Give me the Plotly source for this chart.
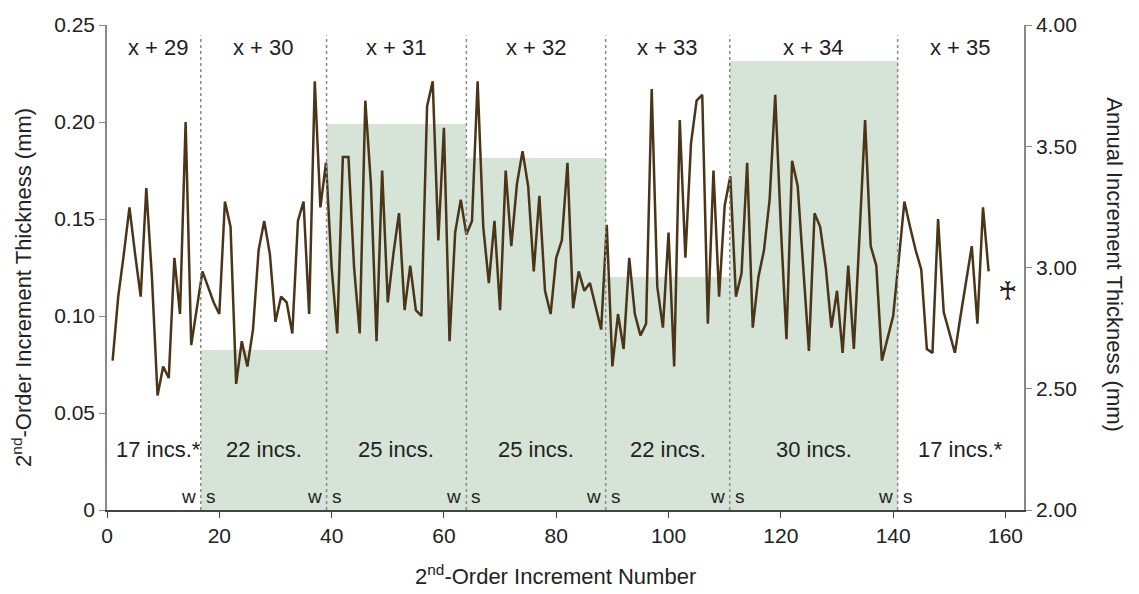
import plotly.graph_objects as go

# 2nd-order increment thickness (mm), increments 1..157
increment_number = list(range(1, 158))
thickness = [
    0.077, 0.110, 0.132, 0.156, 0.132, 0.110, 0.166, 0.120, 0.059, 0.074,
    0.068, 0.130, 0.101, 0.200, 0.085, 0.103, 0.123,
    0.115, 0.107, 0.101, 0.159, 0.146, 0.065, 0.087, 0.074, 0.093, 0.134,
    0.149, 0.132, 0.097, 0.110, 0.107, 0.091, 0.149, 0.159, 0.101, 0.221,
    0.156, 0.179,
    0.125, 0.091, 0.182, 0.182, 0.125, 0.091, 0.211, 0.168, 0.087, 0.175,
    0.107, 0.132, 0.153, 0.103, 0.126, 0.103, 0.100, 0.208, 0.221, 0.139,
    0.197, 0.087, 0.143, 0.160, 0.142,
    0.149, 0.221, 0.146, 0.117, 0.149, 0.103, 0.175, 0.136, 0.168, 0.185,
    0.167, 0.123, 0.162, 0.113, 0.101, 0.130, 0.139, 0.179, 0.104, 0.123,
    0.113, 0.117, 0.105, 0.093, 0.147,
    0.074, 0.101, 0.083, 0.130, 0.101, 0.090, 0.096, 0.217, 0.115, 0.094,
    0.143, 0.074, 0.201, 0.130, 0.189, 0.211, 0.214, 0.096, 0.175, 0.110,
    0.157, 0.172,
    0.110, 0.122, 0.179, 0.094, 0.120, 0.134, 0.160, 0.214, 0.146, 0.088,
    0.180, 0.167, 0.124, 0.082, 0.153, 0.146, 0.125, 0.094, 0.113, 0.081,
    0.126, 0.083, 0.141, 0.201, 0.136, 0.126, 0.077, 0.089, 0.100, 0.129,
    0.159, 0.146, 0.134, 0.124, 0.083, 0.081, 0.150, 0.102, 0.091, 0.081,
    0.100, 0.118, 0.136, 0.096, 0.156, 0.123,
]

# Year boundaries (increment number) and year labels
boundaries = [16.7, 39.1, 64.0, 88.8, 110.9, 140.8]
year_labels = ["x + 29", "x + 30", "x + 31", "x + 32", "x + 33", "x + 34", "x + 35"]
inc_labels = ["17 incs.*", "22 incs.", "25 incs.", "25 incs.", "22 incs.", "30 incs.", "17 incs.*"]
annual_thickness = [None, 2.66, 3.59, 3.45, 2.96, 3.85, None]
o_marks = [88.8, 110.9, 140.8]

FONT = "Liberation Sans, Arial, sans-serif"
TXT = "#222222"
LINE_C = "#4b3519"
BAR_C = "#d5e4d6"

edges = [1.5] + boundaries + [163.3]
mids = [(edges[i] + edges[i + 1]) / 2 for i in range(len(edges) - 1)]

fig = go.Figure()

# annual increment blocks (right axis = primary y so they sit below the line)
bx, bw, by = [], [], []
for i, v in enumerate(annual_thickness):
    if v is None:
        continue
    bx.append((edges[i] + edges[i + 1]) / 2)
    bw.append(edges[i + 1] - edges[i])
    by.append(v - 2.0)
fig.add_trace(go.Bar(x=bx, y=by, base=2.0, width=bw, marker=dict(color=BAR_C, line=dict(width=0)),
                     yaxis="y", hoverinfo="skip", showlegend=False))

fig.add_trace(go.Scatter(x=increment_number, y=thickness, mode="lines", yaxis="y2",
                         line=dict(color=LINE_C, width=2.5), showlegend=False))

shapes = []
for b in boundaries:
    shapes.append(dict(type="line", xref="x", yref="y2", x0=b, x1=b, y0=0, y1=0.2446,
                       line=dict(color="#8a8a8a", width=1.5, dash="dot"), layer="above"))

ann = []
for m, t in zip(mids, year_labels):
    ann.append(dict(x=m, y=0.2384, xref="x", yref="y2", text=t, showarrow=False,
                    font=dict(size=22, color=TXT, family=FONT)))
for m, t in zip(mids, inc_labels):
    ann.append(dict(x=m, y=0.0311, xref="x", yref="y2", text=t, showarrow=False,
                    font=dict(size=22, color=TXT, family=FONT)))
for b in boundaries:
    ann.append(dict(x=b, y=0.0069, xref="x", yref="y2", text="w", showarrow=False,
                    xanchor="right", xshift=-3, font=dict(size=19, color=TXT, family=FONT)))
    ann.append(dict(x=b, y=0.0069, xref="x", yref="y2", text="s", showarrow=False,
                    xanchor="left", xshift=3, font=dict(size=19, color=TXT, family=FONT)))
for o in o_marks:
    ann.append(dict(x=o, y=0.2523, xref="x", yref="y2", text="O", showarrow=False,
                    font=dict(size=22, color=TXT, family=FONT)))
ann.append(dict(x=160.3, y=0.113, xref="x", yref="y2", text="♰", showarrow=False,
                font=dict(size=26, color=TXT, family="DejaVu Sans")))
ann.append(dict(x=-0.0927, y=0.46, xref="paper", yref="paper", text="2<sup>nd</sup>-Order Increment Thickness (mm)",
                showarrow=False, textangle=-90, xanchor="center", yanchor="middle",
                font=dict(size=22, color=TXT, family=FONT)))
ann.append(dict(x=1.099, y=0.505, xref="paper", yref="paper", text="Annual Increment Thickness (mm)",
                showarrow=False, textangle=90, xanchor="center", yanchor="middle",
                font=dict(size=22, color=TXT, family=FONT)))
ann.append(dict(x=0.4886, y=-0.166, xref="paper", yref="paper", text="2<sup>nd</sup>-Order Increment Number",
                showarrow=False, xanchor="center", font=dict(size=22, color=TXT, family=FONT)))

fig.update_layout(
    width=1139, height=594,
    margin=dict(l=107, r=115, t=24.5, b=83.5),
    plot_bgcolor="white", paper_bgcolor="white",
    shapes=shapes, annotations=ann, bargap=0,
    xaxis=dict(range=[0, 163.3], tickvals=[0, 20, 40, 60, 80, 100, 120, 140, 160],
               ticks="outside", ticklen=6, tickcolor="#444", showgrid=False, zeroline=False,
               showline=True, linecolor="#444", linewidth=1.5,
               tickfont=dict(size=21, color=TXT, family=FONT)),
    yaxis=dict(range=[2, 4], side="right",
               tickvals=[2, 2.5, 3, 3.5, 4], ticktext=["2.00", "2.50", "3.00", "3.50", "4.00"],
               ticks="outside", ticklen=6, tickcolor="#888", showgrid=False, zeroline=False,
               showline=True, linecolor="#888", linewidth=1.5,
               tickfont=dict(size=21, color=TXT, family=FONT)),
    yaxis2=dict(range=[0, 0.25], overlaying="y", side="left",
                tickvals=[0, 0.05, 0.10, 0.15, 0.20, 0.25],
                ticktext=["0", "0.05", "0.10", "0.15", "0.20", "0.25"],
                ticks="outside", ticklen=6, tickcolor="#888", showgrid=False, zeroline=False,
                showline=True, linecolor="#888", linewidth=1.5,
                tickfont=dict(size=21, color=TXT, family=FONT)),
)

fig.write_html("out.html")
